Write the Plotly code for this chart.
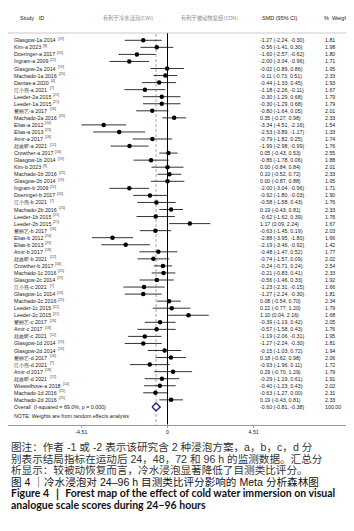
import plotly.graph_objects as go

# ---------------- data ----------------
studies = ["Glasgow-1a 2014", "Kim-a 2023", "Doeringer-a 2017", "Ingram-a 2009", "Glasgow-2a 2014",
           "Machado-1a 2016", "Dantas-a 2020", "江小燕-a 2021", "Leeder-2a 2015", "Leeder-1a 2015",
           "翟丽艺-a 2017", "Machado-2a 2016", "Elias-a 2012", "Elias-a 2013", "Amir-a 2017",
           "赵鑫昕-a 2021", "Crowther-a 2017", "Glasgow-1b 2014", "Kim-b 2023", "Machado-1b 2016",
           "Glasgow-2b 2014", "Ingram-b 2009", "Doeringer-b 2017", "江小燕-b 2021", "Machado-2b 2016",
           "Leeder-1b 2015", "Leeder-2b 2015", "翟丽艺-b 2017", "Elias-b 2012", "Elias-b 2013",
           "Amir-b 2017", "赵鑫昕-b 2021", "Crowther-b 2017", "Machado-1c 2016", "Glasgow-2c 2014",
           "江小燕-c 2021", "Glasgow-1c 2014", "Machado-2c 2016", "Leeder-1c 2015", "Leeder-2c 2015",
           "翟丽艺-c 2017", "Amir-c 2017", "赵鑫昕-c 2021", "Glasgow-1d 2014", "Glasgow-2d 2014",
           "翟丽艺-d 2017", "江小燕-d 2021", "Amir-d 2017", "赵鑫昕-d 2021", "Wiewelhove-a 2018",
           "Machado-1d 2016", "Machado-2d 2016"]
refs = ["19", "8", "20", "22", "19", "25", "4", "7", "21", "21", "26", "25", "24", "23", "18",
        "12", "16", "19", "8", "25", "19", "22", "20", "7", "25", "21", "21", "26", "24", "23",
        "18", "12", "16", "25", "19", "7", "19", "25", "21", "21", "26", "18", "12", "19", "19",
        "26", "7", "18", "12", "14", "25", "25"]
smd = [-1.27, -0.56, -1.60, -2.00, -0.02, -0.11, -0.44, -1.18, -0.30, -0.30, -0.80, 0.35, -3.34, -2.53,
       -0.79, -1.99, 0.05, -0.86, 0.00, 0.10, 0.00, -2.00, -0.92, -0.58, 0.19, -0.62, 1.17, -0.63,
       -2.88, -2.19, -0.48, -0.74, -0.24, -0.21, -0.56, -1.23, -1.27, 0.08, 0.22, 1.10, -0.39, -0.57,
       -1.19, -1.27, -0.15, 0.18, -0.93, 0.29, -0.29, -0.40, -0.63, 0.19]
ci_lo = [-2.24, -1.41, -2.57, -3.04, -0.89, -0.73, -1.33, -2.26, -1.29, -1.29, -1.64, -0.27, -4.51, -3.89,
         -1.82, -2.98, -0.43, -1.78, -0.84, -0.52, -0.87, -3.04, -1.80, -1.58, -0.43, -1.62, 0.09, -1.45,
         -3.95, -3.46, -1.47, -1.57, -0.71, -0.83, -1.46, -2.31, -2.24, -0.54, -0.77, 0.04, -1.19, -1.58,
         -2.06, -2.24, -1.03, -0.62, -1.96, -0.70, -1.19, -1.23, -1.27, -0.43]
ci_hi = [-0.30, 0.30, -0.62, -0.96, 0.86, 0.51, 0.45, -0.11, 0.68, 0.68, 0.05, 0.98, -2.16, -1.17,
         0.25, -0.99, 0.53, 0.06, 0.84, 0.72, 0.88, -0.96, -0.03, 0.43, 0.81, 0.39, 2.24, 0.19,
         -1.80, -0.92, 0.52, 0.09, 0.24, 0.41, 0.33, -0.15, -0.30, 0.70, 1.20, 2.16, 0.42, 0.43,
         -0.31, -0.30, 0.72, 0.98, 0.11, 1.29, 0.61, 0.43, 0.00, 0.81]
weights = [1.81, 1.98, 1.80, 1.71, 1.95, 2.33, 1.93, 1.67, 1.79, 1.79, 2.01, 2.33, 1.54, 1.33, 1.74,
           1.76, 2.55, 1.88, 2.01, 2.33, 1.95, 1.71, 1.90, 1.76, 2.33, 1.76, 1.67, 2.03, 1.66, 1.42,
           1.77, 2.02, 2.54, 2.33, 1.92, 1.66, 1.81, 2.34, 1.79, 1.68, 2.05, 1.76, 1.95, 1.81, 1.94,
           2.06, 1.72, 1.79, 1.91, 2.02, 2.31, 2.33]
overall_smd = -0.60
overall_lo = -0.81
overall_hi = -0.38
overall_label = "Overall  (I-squared = 69.0%, p = 0.000)"
overall_weight = "100.00"
tick_vals = [-4.51, 0, 4.51]
tick_text = ["-4.51", "0", "4.51"]

caption = [
    "图注：作者 -1 或 -2 表示该研究含 2 种浸泡方案，a，b，c，d 分",
    "别表示结局指标在运动后 24，48，72 和 96 h 的监测数据。汇总分",
    "析显示：较被动恢复而言，冷水浸泡显著降低了目测类比评分。",
]
fig_title_cn = "图 4 ｜冷水浸泡对 24–96 h 目测类比评分影响的 Meta 分析森林图"
fig_title_en = ["Figure 4 ｜ Forest map of the effect of cold water immersion on visual",
                "analogue scale scores during 24–96 hours"]

# ---------------- geometry helpers ----------------
W, H = 354, 531
X0PX, PXU = 159.5, 19.1          # pixel of x=0, pixels per SMD unit
ROW0, ROWH = 32.3, 7.05          # pixel of first row, row spacing
AXIS_PX = 416.7                  # bottom axis line pixel
LBL_PX = 4.0
FS = 5.3


def xd(px):
    return (px - X0PX) / PXU


def yd(px):
    return (px - ROW0) / ROWH


# Arial-like advance widths (per em) to place the reference superscripts
_AW = {" ": .278, "-": .333, ".": .278}
for ch in "0123456789":
    _AW[ch] = .556
_AW.update({"A": .667, "C": .722, "D": .722, "E": .667, "G": .778, "I": .278, "K": .667, "L": .556,
            "M": .833, "W": .944, "a": .556, "b": .556, "c": .5, "d": .556, "e": .556, "g": .556,
            "h": .556, "i": .222, "l": .222, "m": .833, "n": .556, "o": .556, "r": .333, "s": .5,
            "t": .278, "u": .556, "v": .5, "w": .722, "x": .5, "y": .5, "z": .5, "p": .556, "f": .278,
            "k": .5})


def text_w(s, size):
    return sum(_AW.get(c, 1.0) for c in s) * size


n = len(studies)
rows = list(range(n))
overall_row = n

fig = go.Figure()

# CI lines
lx, ly = [], []
for i in rows:
    lx += [ci_lo[i], ci_hi[i], None]
    ly += [i, i, None]
fig.add_trace(go.Scatter(x=lx, y=ly, mode="lines", line=dict(color="#333333", width=1),
                         hoverinfo="skip", showlegend=False))
# point estimates
fig.add_trace(go.Scatter(x=smd, y=rows, mode="markers",
                         marker=dict(color="black", size=4.5, symbol="circle"),
                         showlegend=False))
# overall diamond
fig.add_trace(go.Scatter(x=[overall_lo, overall_smd, overall_hi, overall_smd, overall_lo],
                         y=[overall_row, overall_row - 0.55, overall_row, overall_row + 0.55, overall_row],
                         mode="lines", fill="toself", fillcolor="white",
                         line=dict(color="#1c2a80", width=1.4), showlegend=False))

# reference lines
fig.add_shape(type="line", x0=0, x1=0, y0=yd(25), y1=yd(AXIS_PX), xref="x", yref="y",
              line=dict(color="black", width=1))
fig.add_shape(type="line", x0=overall_smd, x1=overall_smd, y0=yd(26), y1=yd(AXIS_PX), xref="x", yref="y",
              line=dict(color="#c79a9a", width=1, dash="3px,2px"), layer="below")
# header rule
fig.add_shape(type="line", x0=0, x1=1, y0=yd(25), y1=yd(25), xref="paper", yref="y",
              line=dict(color="#bbbbbb", width=0.8))

TXT = dict(family="Liberation Sans, Arial", size=FS, color="#222222")
SUP = dict(family="Liberation Sans, Arial", size=3.6, color="#444444")
ann = []
for i in rows:
    ann.append(dict(x=xd(LBL_PX), y=i, xref="x", yref="y", xanchor="left", yanchor="middle", showarrow=False,
                    text=studies[i], font=TXT))
    sx = LBL_PX + text_w(studies[i] + " ", FS) + 0.5
    ann.append(dict(x=xd(sx), y=i - 0.22, xref="x", yref="y", xanchor="left", yanchor="middle",
                    showarrow=False, text=f"[{refs[i]}]", font=SUP))
    ann.append(dict(x=xd(249.5), y=i, xref="x", yref="y", xanchor="left", yanchor="middle", showarrow=False,
                    text=f"{smd[i]:.2f} ({ci_lo[i]:.2f}, {ci_hi[i]:.2f})", font=TXT))
    ann.append(dict(x=xd(314.5), y=i, xref="x", yref="y", xanchor="left", yanchor="middle", showarrow=False,
                    text=f"{weights[i]:.2f}", font=TXT))
ann.append(dict(x=xd(LBL_PX), y=overall_row, xref="x", yref="y", xanchor="left", yanchor="middle",
                showarrow=False, text=overall_label, font=TXT))
ann.append(dict(x=xd(249.5), y=overall_row, xref="x", yref="y", xanchor="left", yanchor="middle", showarrow=False,
                text=f"{overall_smd:.2f} ({overall_lo:.2f}, {overall_hi:.2f})", font=TXT))
ann.append(dict(x=xd(314.5), y=overall_row, xref="x", yref="y", xanchor="left", yanchor="middle", showarrow=False,
                text=overall_weight, font=TXT))
ann.append(dict(x=xd(LBL_PX), y=yd(408.3), xref="x", yref="y", xanchor="left", yanchor="middle", showarrow=False,
                text="NOTE: Weights are from random effects analysis", font=TXT))
# headers
HDR = dict(family="Liberation Sans, Arial", size=5.5, color="#222222")
ann.append(dict(x=xd(10), y=yd(10), xref="x", yref="y", xanchor="left", yanchor="middle", showarrow=False,
                text="Study   ID", font=HDR))
ann.append(dict(x=xd(252), y=yd(10), xref="x", yref="y", xanchor="left", yanchor="middle", showarrow=False,
                text="SMD (95% CI)", font=HDR))
ann.append(dict(x=xd(314), y=yd(10), xref="x", yref="y", xanchor="left", yanchor="middle", showarrow=False,
                text="%  Weight", font=HDR))
HDRCN = dict(family="Noto Sans CJK SC", size=5.3, color="#8a8a8a")
ann.append(dict(x=xd(119.5), y=yd(10), xref="x", yref="y", xanchor="center", yanchor="middle", showarrow=False,
                text="有利于冷水浸泡(CWI)", font=HDRCN))
ann.append(dict(x=xd(201.5), y=yd(10), xref="x", yref="y", xanchor="center", yanchor="middle", showarrow=False,
                text="有利于被动恢复组(CON)", font=HDRCN))

# caption
CAPFAM = "Liberation Sans, Noto Sans CJK SC"
CAP = dict(family=CAPFAM, size=10.6, color="#333333")
cap_y = [439.3, 450.8, 462.3]
for t, yp in zip(caption, cap_y):
    ann.append(dict(x=2 / W, y=1 - yp / H, xref="paper", yref="paper", xanchor="left", yanchor="middle",
                    showarrow=False, text=t, font=CAP, borderpad=0))
ann.append(dict(x=2 / W, y=1 - 474.3 / H, xref="paper", yref="paper", xanchor="left", yanchor="middle",
                showarrow=False, text=fig_title_cn, borderpad=0,
                font=dict(family=CAPFAM, size=10.6, color="#111111")))
for t, yp in zip(fig_title_en, [485.8, 497.0]):
    ann.append(dict(x=2 / W, y=1 - yp / H, xref="paper", yref="paper", xanchor="left", yanchor="middle",
                    showarrow=False, text=f"<b>{t}</b>", borderpad=0,
                    font=dict(family="Lato, Open Sans", size=10.5, color="#111111")))

fig.update_layout(
    width=W, height=H, margin=dict(l=0, r=0, t=0, b=0),
    paper_bgcolor="white", plot_bgcolor="white",
    annotations=ann, showlegend=False,
    xaxis=dict(range=[xd(0), xd(W)], domain=[0, 1], showgrid=False, zeroline=False,
               showline=True, linecolor="#999999", linewidth=0.8,
               tickmode="array", tickvals=tick_vals, ticktext=tick_text,
               ticks="outside", ticklen=2, tickcolor="#999999",
               tickfont=dict(family="Liberation Sans, Arial", size=5.3, color="#222222")),
    yaxis=dict(range=[yd(AXIS_PX), yd(0)], domain=[1 - AXIS_PX / H, 1], showgrid=False,
               zeroline=False, showticklabels=False, showline=False),
)

fig.write_html("out.html")
